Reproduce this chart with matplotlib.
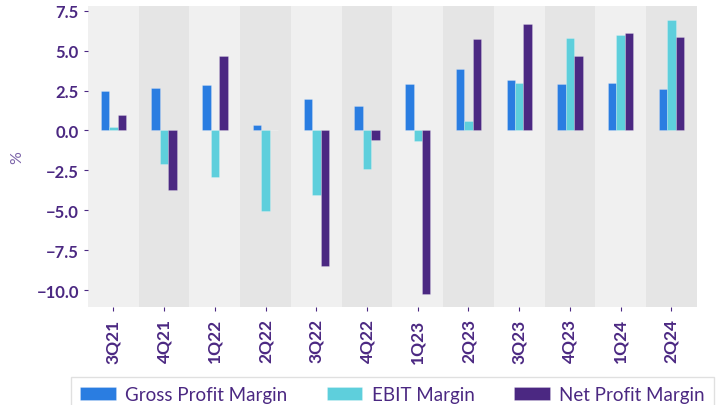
import numpy as np
import matplotlib
matplotlib.use("Agg")
import matplotlib.pyplot as plt

# quarterly margins in %
quarters = ["3Q21", "4Q21", "1Q22", "2Q22", "3Q22", "4Q22",
            "1Q23", "2Q23", "3Q23", "4Q23", "1Q24", "2Q24"]
gross_margin = [2.44, 2.63, 2.86, 0.36, 1.96, 1.52, 2.88, 3.86, 3.17, 2.88, 2.94, 2.59]
ebit_margin = [0.23, -2.08, -2.94, -5.02, -4.02, -2.39, -0.66, 0.61, 3.00, 5.81, 5.96, 6.92]
net_margin = [0.98, -3.73, 4.65, 0.0, -8.52, -0.60, -10.23, 5.75, 6.67, 4.65, 6.08, 5.88]
series_names = ["Gross Profit Margin", "EBIT Margin", "Net Profit Margin"]
series_colors = ["#2a7de1", "#5ecfdc", "#4b2882"]

text_color = "#4b2882"
plt.rcParams['font.family'] = ['Lato', 'DejaVu Sans']

fig = plt.figure(figsize=(7.25, 4.06), dpi=100)
ax = fig.add_axes([0.1214, 0.241, 0.8396, 0.742])

x = np.arange(len(quarters))
#alternating background bands
for i in x:
    ax.axvspan(i - 0.5, i + 0.5, color="#f0f0f0" if i % 2 == 0 else "#e5e5e5", lw=0, zorder=0)

width = 0.5 / 3
for k, (vals, name, col) in enumerate(zip([gross_margin, ebit_margin, net_margin], series_names, series_colors)):
    ax.bar(x + (k - 1) * width, vals, width, color=col, label=name, zorder=2,
           edgecolor=(1, 1, 1, 0.25), linewidth=0.6)

ax.set_xlim(-0.5, len(quarters) - 0.5)
ax.set_ylim(-11.07, 7.8)
ax.set_xticks(x)
ax.set_xticklabels(quarters, rotation=90, fontsize=12.5, color=text_color, fontweight="bold")
ax.set_yticks([-10, -7.5, -5, -2.5, 0, 2.5, 5, 7.5])
ax.set_yticklabels(["\u221210.0", "\u22127.5", "\u22125.0", "\u22122.5", "0.0", "2.5", "5.0", "7.5"],
                   fontsize=12, color=text_color, fontweight="bold")
ax.tick_params(axis="both", colors=text_color, length=3, width=0.8)
ax.tick_params(axis="x", pad=5)
ax.set_ylabel("%", color="#7a62a8", fontsize=11.5, labelpad=9)
for s in ax.spines.values():
    s.set_visible(False)

leg = ax.legend(loc="upper center", bbox_to_anchor=(0.5, -0.2), ncol=3, frameon=True,
                prop={"size": 13.5}, handlelength=1.9, handleheight=0.75, handletextpad=0.5,
                columnspacing=2.1, borderpad=0.5, fancybox=False)
leg.get_frame().set_edgecolor("#d9d9d9")
for t in leg.get_texts():
    t.set_color(text_color)

fig.savefig("out.png", dpi=100)
